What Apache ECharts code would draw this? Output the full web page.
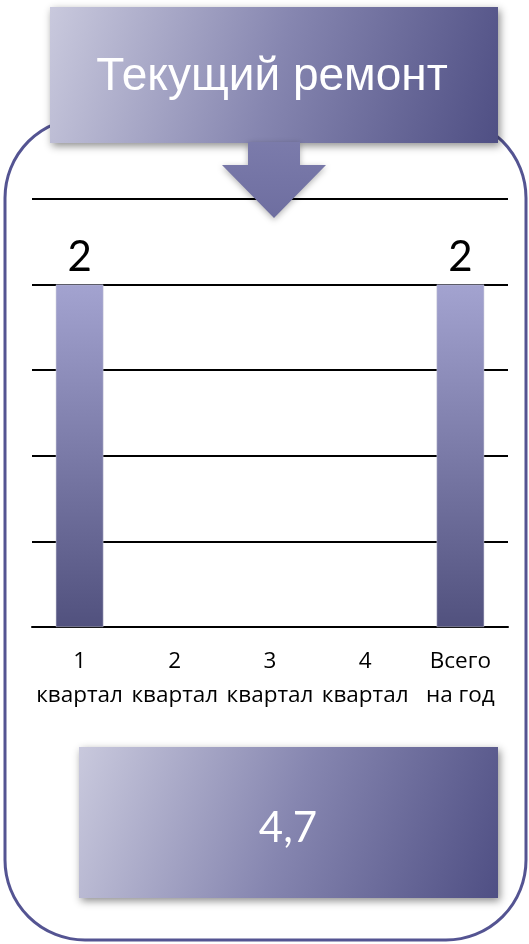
<!DOCTYPE html>
<html>
<head>
<meta charset="utf-8">
<script src="https://cdn.jsdelivr.net/npm/echarts@6/dist/echarts.min.js"></script>
<style>
html, body { margin: 0; padding: 0; background: #fff; }
#main { width: 529px; height: 944px; }
</style>
</head>
<body>
<div id="main"></div>
<script>
var myChart = echarts.init(document.getElementById('main'));

// данные
var title = 'Текущий ремонт';
var categories = ['1\nквартал', '2\nквартал', '3\nквартал', '4\nквартал', 'Всего\nна год'];
var values = [2, null, null, null, 2];
var yTicks = [0, 0.5, 1, 1.5, 2, 2.5];
var total = '4,7';

var boxGradient = new echarts.graphic.LinearGradient(0, 0, 1, 1, [
    {offset: 0, color: '#c9c9dd'},
    {offset: 0.5, color: '#8686b0'},
    {offset: 1, color: '#4f4f84'}
]);

option = {
    backgroundColor: '#fff',
    animation: false,
    grid: {
        left: 32,
        right: 21,
        top: 199,
        bottom: 317
    },
    xAxis: {
        type: 'category',
        data: categories,
        axisLine: {lineStyle: {color: '#000', width: 2}},
        axisTick: {show: false},
        axisLabel: {
            color: '#000',
            fontFamily: 'Open Sans',
            fontSize: 22.5,
            lineHeight: 34,
            margin: 18,
            interval: 0
        }
    },
    yAxis: {
        type: 'value',
        min: yTicks[0],
        max: yTicks[yTicks.length - 1],
        interval: 0.5,
        axisLine: {show: false},
        axisTick: {show: false},
        axisLabel: {show: false},
        splitLine: {lineStyle: {color: '#000', width: 2}}
    },
    series: [
        {
            type: 'bar',
            data: values,
            barWidth: '50%',
            itemStyle: {
                color: new echarts.graphic.LinearGradient(0, 0, 0, 1, [
                    {offset: 0, color: '#a3a3d0'},
                    {offset: 1, color: '#51517e'}
                ]),
                borderColor: '#c8c8d8',
                borderWidth: 0.5
            },
            label: {
                show: true,
                position: 'top',
                distance: 6,
                color: '#000',
                fontFamily: 'Lato',
                fontSize: 42
            }
        }
    ],
    graphic: [
        {
            type: 'rect',
            z: 1,
            shape: {x: 5, y: 118, width: 521, height: 822, r: 80},
            style: {fill: 'none', stroke: '#545492', lineWidth: 3}
        },
        {
            type: 'rect',
            z: 100,
            shape: {x: 50, y: 7, width: 448, height: 136},
            style: {
                fill: boxGradient,
                shadowBlur: 8,
                shadowOffsetX: 2,
                shadowOffsetY: 3,
                shadowColor: 'rgba(0,0,0,0.45)'
            }
        },
        {
            type: 'text',
            z: 101,
            x: 272,
            y: 77,
            style: {
                text: title,
                fill: '#fff',
                font: '46px "Liberation Sans", Arial, sans-serif',
                align: 'center',
                verticalAlign: 'middle'
            }
        },
        {
            type: 'polygon',
            z: 100,
            shape: {
                points: [[248, 142], [300, 142], [300, 165], [326, 165], [274, 218], [222, 165], [248, 165]]
            },
            style: {
                fill: new echarts.graphic.LinearGradient(0, 0, 0, 1, [
                    {offset: 0, color: '#7b7bab'},
                    {offset: 1, color: '#6e6ea0'}
                ]),
                shadowBlur: 6,
                shadowOffsetY: 2,
                shadowColor: 'rgba(0,0,0,0.3)'
            }
        },
        {
            type: 'rect',
            z: 100,
            shape: {x: 79, y: 747, width: 419, height: 151},
            style: {
                fill: boxGradient,
                shadowBlur: 8,
                shadowOffsetX: 2,
                shadowOffsetY: 3,
                shadowColor: 'rgba(0,0,0,0.45)'
            }
        },
        {
            type: 'text',
            z: 101,
            x: 288,
            y: 828,
            style: {
                text: total,
                fill: '#fff',
                font: '42px Lato, sans-serif',
                align: 'center',
                verticalAlign: 'middle'
            }
        }
    ]
};

myChart.setOption(option);
</script>
</body>
</html>
